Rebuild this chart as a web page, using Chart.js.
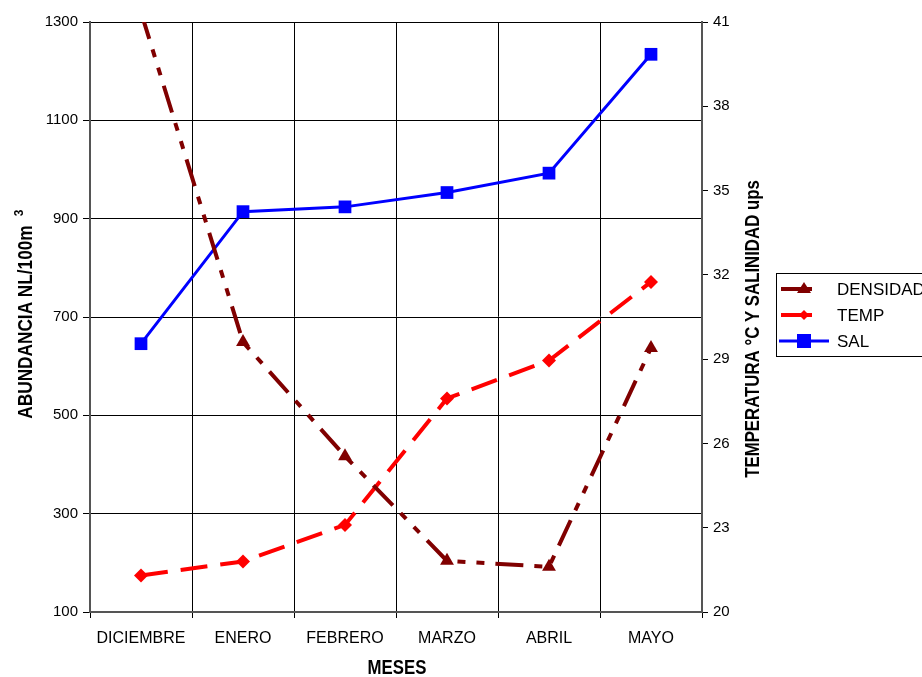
<!DOCTYPE html>
<html>
<head>
<meta charset="utf-8">
<script src="https://cdn.jsdelivr.net/npm/chart.js@4/dist/chart.umd.min.js"></script>
<style>
  html, body { margin: 0; padding: 0; background: #fff; }
  #wrap { width: 922px; height: 677px; }
</style>
</head>
<body>
<div id="wrap"><canvas id="chartMeses" width="922" height="677"></canvas></div>
<script>
const months = ['DICIEMBRE', 'ENERO', 'FEBRERO', 'MARZO', 'ABRIL', 'MAYO'];
const densidad = [1320, 649, 417, 204, 192, 637];
const temp = [21.3, 21.8, 23.1, 27.6, 28.95, 31.75];
const sal = [29.55, 34.25, 34.42, 34.93, 35.62, 39.85];

const FONT = 'Arial, "Liberation Sans", sans-serif';

// condensed bold text, like the original axis titles
function narrowText(ctx, text, x, y, angle, size, sx) {
  ctx.save();
  ctx.translate(x, y);
  ctx.rotate(angle);
  ctx.scale(sx || 0.8, 1);
  ctx.font = 'bold ' + size + 'px ' + FONT;
  ctx.textAlign = 'center';
  ctx.textBaseline = 'middle';
  ctx.fillStyle = '#000';
  ctx.fillText(text, 0, 0);
  ctx.restore();
}

const axisTitles = {
  id: 'axisTitles',
  afterDraw(chart) {
    const ctx = chart.ctx;
    narrowText(ctx, 'ABUNDANCIA NL/100m', 26, 322, -Math.PI / 2, 21, 0.82);
    ctx.save();
    ctx.translate(20, 213);
    ctx.rotate(-Math.PI / 2);
    ctx.font = 'bold 12px ' + FONT;
    ctx.textAlign = 'center';
    ctx.textBaseline = 'middle';
    ctx.fillStyle = '#000';
    ctx.fillText('3', 0, 0);
    ctx.restore();
    narrowText(ctx, 'TEMPERATURA °C Y SALINIDAD ups', 753, 329, -Math.PI / 2, 21);
    narrowText(ctx, 'MESES', 397, 668, 0, 21);
  }
};

// legend box drawn by hand so it sits where the original one does
const legendBox = {
  id: 'legendBox',
  afterDraw(chart) {
    const ctx = chart.ctx;
    const x = 776, y = 273, w = 150, h = 83;
    ctx.save();
    ctx.strokeStyle = '#000';
    ctx.lineWidth = 1;
    ctx.strokeRect(x + 0.5, y + 0.5, w, h);
    ctx.font = '17px ' + FONT;
    ctx.textBaseline = 'middle';
    chart.data.datasets.forEach((ds, i) => {
      const cy = y + 16 + i * 26;
      ctx.strokeStyle = ds.borderColor;
      ctx.lineWidth = ds.borderWidth;
      ctx.beginPath();
      ctx.moveTo(i === 2 ? x + 3 : x + 5, cy);
      ctx.lineTo(i === 2 ? x + 53 : x + 36, cy);
      ctx.stroke();
      ctx.fillStyle = ds.borderColor;
      const mx = x + 28;
      ctx.beginPath();
      if (ds.pointStyle === 'triangle') {
        ctx.moveTo(mx, cy - 7); ctx.lineTo(mx + 7, cy + 4); ctx.lineTo(mx - 7, cy + 4);
      } else if (ds.pointStyle === 'rectRot') {
        ctx.moveTo(mx, cy - 5); ctx.lineTo(mx + 5, cy); ctx.lineTo(mx, cy + 5); ctx.lineTo(mx - 5, cy);
      } else {
        ctx.rect(mx - 7, cy - 7, 14, 14);
      }
      ctx.fill();
      ctx.fillStyle = '#000';
      ctx.fillText(ds.label, x + 61, cy + 1);
    });
    ctx.restore();
  }
};

new Chart(document.getElementById('chartMeses'), {
  type: 'line',
  data: {
    labels: months,
    datasets: [
      {
        label: 'DENSIDAD',
        data: densidad,
        yAxisID: 'y',
        borderColor: '#800000',
        backgroundColor: '#800000',
        borderWidth: 4,
        borderDash: [28, 11, 8, 11, 8, 11],
        pointStyle: 'triangle',
        pointRadius: 8,
        pointBorderWidth: 0
      },
      {
        label: 'TEMP',
        data: temp,
        yAxisID: 'y1',
        borderColor: '#ff0000',
        backgroundColor: '#ff0000',
        borderWidth: 4,
        borderDash: [27, 13],
        pointStyle: 'rectRot',
        pointRadius: 7,
        pointBorderWidth: 0
      },
      {
        label: 'SAL',
        data: sal,
        yAxisID: 'y1',
        borderColor: '#0000ff',
        backgroundColor: '#0000ff',
        borderWidth: 3,
        pointStyle: 'rect',
        pointRadius: 9,
        pointBorderWidth: 0
      }
    ]
  },
  options: {
    responsive: false,
    animation: false,
    layout: { padding: { top: 22, left: 0, right: 0, bottom: 0 } },
    plugins: {
      legend: { display: false },
      tooltip: { enabled: false }
    },
    scales: {
      x: {
        offset: true,
        grid: { offset: true, color: '#000', lineWidth: 1, tickLength: 6 },
        border: { color: '#555', width: 2 },
        ticks: { color: '#000', font: { family: FONT, size: 16 }, maxRotation: 0, padding: 11 },
        afterFit(s) { s.height = 65; }
      },
      y: {
        position: 'left',
        min: 100, max: 1300,
        ticks: { stepSize: 200, color: '#000', font: { family: FONT, size: 15 }, padding: 5,
                 callback: v => String(v) },
        grid: { color: '#000', lineWidth: 1, tickLength: 7 },
        border: { color: '#555', width: 2 },
        afterFit(s) { s.width = 90; }
      },
      y1: {
        position: 'right',
        min: 20, max: 41,
        ticks: { stepSize: 3, color: '#000', font: { family: FONT, size: 15 }, padding: 5,
                 callback: v => String(v) },
        grid: { drawOnChartArea: false, color: '#000', tickLength: 6 },
        border: { color: '#555', width: 2 },
        afterFit(s) { s.width = 220; }
      }
    }
  },
  plugins: [axisTitles, legendBox]
});
</script>
</body>
</html>
